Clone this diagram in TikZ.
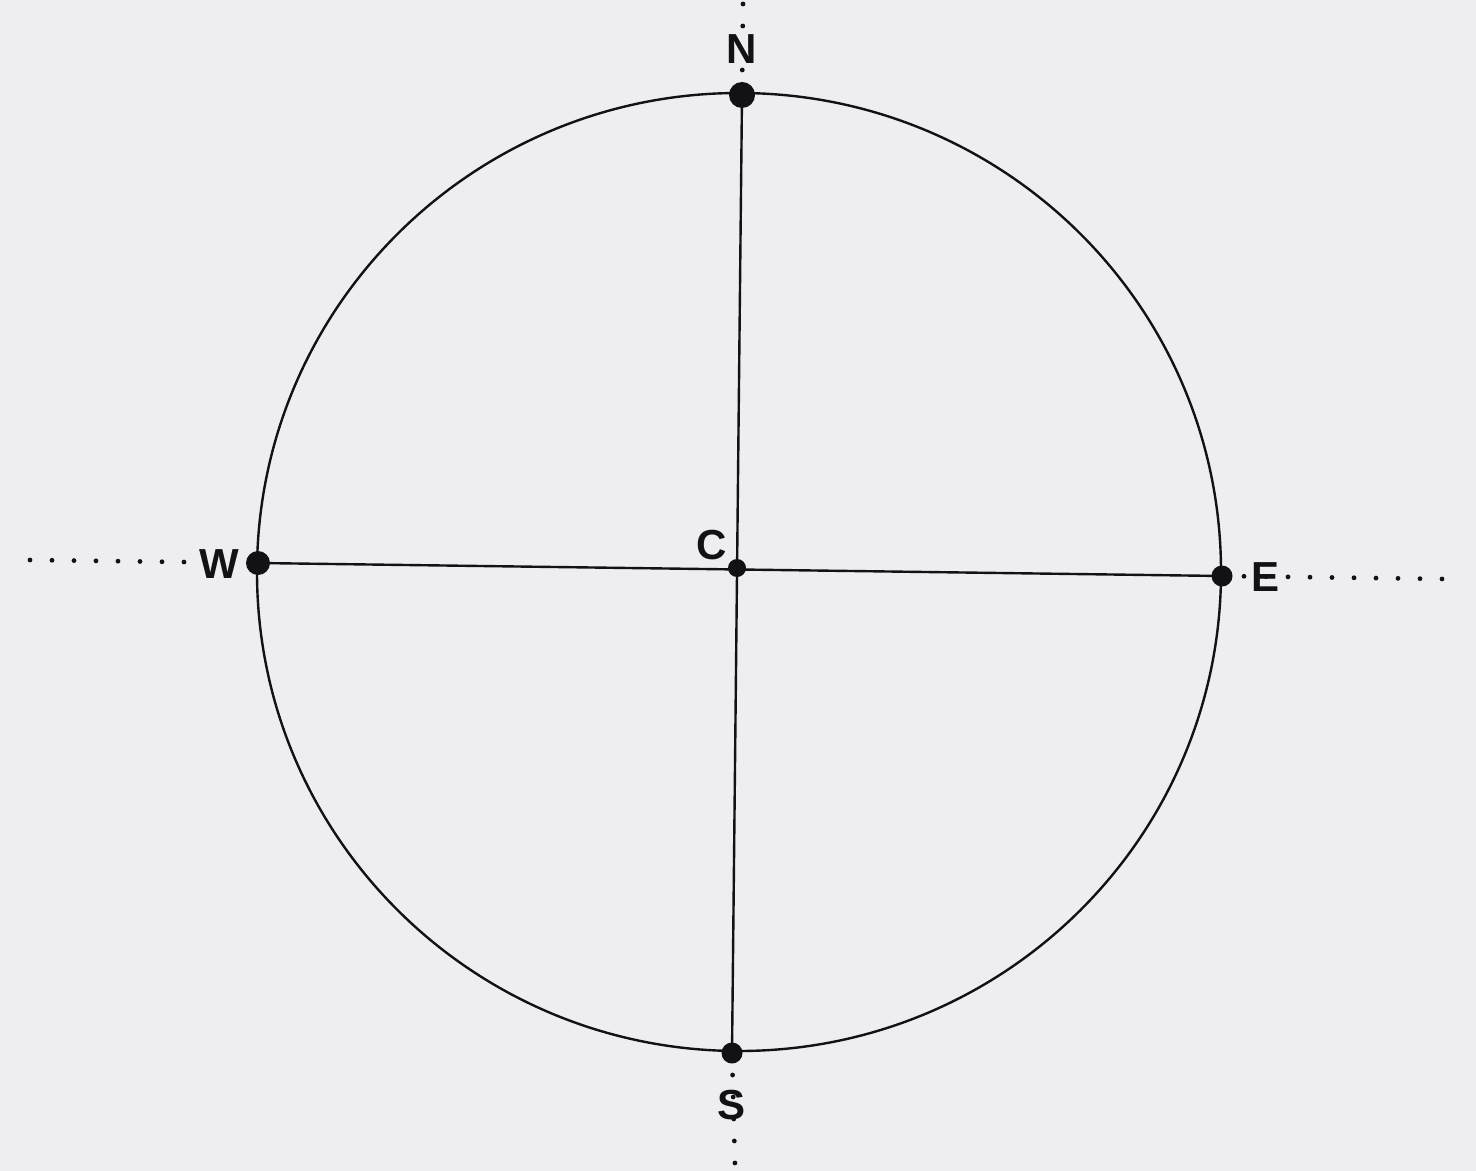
\documentclass[tikz,border=0pt]{standalone}
\usepackage{fontspec}
\setmainfont{Liberation Sans}
\definecolor{paper}{RGB}{238,238,240}
\definecolor{ink}{RGB}{18,18,20}
\begin{document}
\begin{tikzpicture}[x=0.5pt,y=-0.5pt,
  pt/.style={circle,fill=ink,inner sep=0pt,minimum size=#1},
  lbl/.style={font=\fontsize{21}{21}\selectfont\bfseries,text=ink,inner sep=0pt},
  guide/.style={ink,line width=2.4pt,line cap=round,dash pattern=on 0pt off 11pt},
  solid line/.style={ink,line width=1.2pt}]
\fill[paper] (0,0) rectangle (1476,1171);
\useasboundingbox (0,0) rectangle (1476,1171);
% dotted guides
\coordinate (gT) at (743,4);
\coordinate (gB) at (735,1166);
\coordinate (gL) at (30,560);
\coordinate (gR) at (1446,579);
\coordinate (N) at (742,95);
\coordinate (S) at (732,1053);
\coordinate (W) at (258,563);
\coordinate (E) at (1222,576);
\coordinate (C) at (737,568);
\draw[guide] (gT) -- (N);
\draw[guide] (S) -- (gB);
\draw[guide] (gL) -- (W);
\draw[guide] (E) -- (gR);
% circle and diameters
\draw[solid line] (739,572) ellipse [x radius=482, y radius=479];
\draw[solid line] (N) -- (S);
\draw[solid line] (W) -- (E);
% points
\node[pt=13pt] (nN) at (N) {};
\node[pt=12pt] (nW) at (W) {};
\node[pt=10.5pt] (nE) at (E) {};
\node[pt=10.5pt] (nS) at (S) {};
\node[pt=9pt] (nC) at (C) {};
% labels
\node[lbl,fill=paper,inner sep=1pt] (lN) at (742,49) {N};
\node[lbl,fill=paper,inner sep=1pt] (lW) at (219,564) {W};
\node[lbl] (lC) at (712,545) {C};
\node[lbl] (lE) at (1265,577) {E};
\node[lbl] (lS) at (731,1105) {S};
\end{tikzpicture}
\end{document}
